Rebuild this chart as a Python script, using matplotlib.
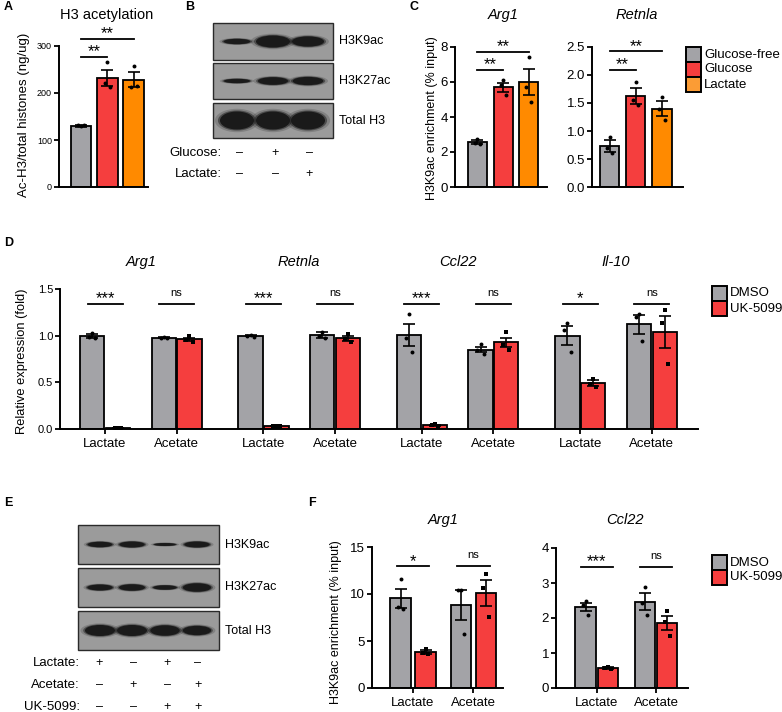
import matplotlib
matplotlib.use("Agg")
import matplotlib.pyplot as plt
from matplotlib.patches import Rectangle, Ellipse

plt.rcParams['font.family'] = ['Liberation Sans', 'DejaVu Sans']

W, H = 782, 712
GRAY = '#a3a3a7'
RED = '#f53e3e'
ORANGE = '#ff8a00'
ORANGE_LEG = '#fb9c35'

# ---- panel A : H3 acetylation ----
a_means = [130, 232, 228]
a_sem = [2, 17, 16]
a_points = [[129, 131, 132], [265, 222, 212], [258, 212, 215]]

# ---- panel B : blot ----
b_rows = ['H3K9ac', 'H3K27ac', 'Total H3']
b_bands = [[0.45, 1.0, 0.85], [0.4, 0.7, 0.75], [1.0, 1.0, 1.0]]
b_glucose = ['–', '+', '–']
b_lactate = ['–', '–', '+']

# ---- panel C : ChIP ----
c_groups = ['Glucose-free', 'Glucose', 'Lactate']
c_arg1_means = [2.55, 5.7, 6.0]
c_arg1_sem = [0.12, 0.26, 0.75]
c_arg1_points = [[2.75, 2.5, 2.45], [6.1, 5.8, 5.25], [7.4, 5.7, 4.85]]
c_retnla_means = [0.73, 1.63, 1.40]
c_retnla_sem = [0.11, 0.14, 0.13]
c_retnla_points = [[0.9, 0.7, 0.6], [1.87, 1.55, 1.47], [1.6, 1.4, 1.2]]

# ---- panel D : expression ----
d_genes = ['Arg1', 'Retnla', 'Ccl22', 'Il-10']
d_conds = ['Lactate', 'Acetate']
d_dmso_means = [[1.0, 0.98], [1.0, 1.01], [1.01, 0.85], [1.0, 1.12]]
d_dmso_sem = [[0.02, 0.005], [0.005, 0.03], [0.12, 0.03], [0.10, 0.10]]
d_dmso_points = [[[1.03, 0.99, 0.97], [0.99, 0.98, 0.98]],
                 [[1.01, 1.0, 0.99], [1.04, 1.0, 0.97]],
                 [[1.23, 0.98, 0.83], [0.91, 0.85, 0.80]],
                 [[1.14, 1.06, 0.82], [1.23, 1.20, 0.94]]]
d_uk_means = [[0.01, 0.96], [0.03, 0.97], [0.04, 0.93], [0.49, 1.04]]
d_uk_sem = [[0.003, 0.02], [0.003, 0.03], [0.007, 0.05], [0.03, 0.17]]
d_uk_points = [[[0.01, 0.01, 0.01], [1.0, 0.95, 0.93]],
               [[0.03, 0.03, 0.03], [1.02, 0.96, 0.93]],
               [[0.05, 0.04, 0.03], [1.04, 0.90, 0.85]],
               [[0.54, 0.48, 0.45], [1.28, 1.14, 0.70]]]
d_sig = [['***', 'ns'], ['***', 'ns'], ['***', 'ns'], ['*', 'ns']]

# ---- panel E : blot ----
e_rows = ['H3K9ac', 'H3K27ac', 'Total H3']
e_bands = [[0.55, 0.6, 0.3, 0.6], [0.6, 0.65, 0.45, 0.85], [1.0, 1.0, 0.95, 0.85]]
e_lactate = ['+', '–', '+', '–']
e_acetate = ['–', '+', '–', '+']
e_uk = ['–', '–', '+', '+']

# ---- panel F : ChIP ----
f_genes = ['Arg1', 'Ccl22']
f_dmso_means = [[9.55, 8.8], [2.31, 2.47]]
f_dmso_sem = [[1.0, 1.6], [0.12, 0.25]]
f_dmso_points = [[[11.6, 8.6, 8.45], [10.4, 10.4, 5.7]],
                 [[2.48, 2.37, 2.1], [2.9, 2.43, 2.1]]]
f_uk_means = [[3.8, 10.1], [0.57, 1.86]]
f_uk_sem = [[0.2, 1.35], [0.02, 0.21]]
f_uk_points = [[[4.2, 3.7, 3.6], [12.1, 10.6, 7.6]],
               [[0.6, 0.57, 0.55], [2.2, 1.88, 1.5]]]
f_sig = [['*', 'ns'], ['***', 'ns']]

fig = plt.figure(figsize=(W / 100, H / 100), dpi=100)

# overlay in pixel coords for blots, legends, titles, letters
ov = fig.add_axes([0, 0, 1, 1])
ov.set_xlim(0, W)
ov.set_ylim(H, 0)
ov.axis('off')


def px_axes(left, top, right, bottom):
    return fig.add_axes([left / W, 1 - bottom / H, (right - left) / W, (bottom - top) / H])


def style(ax, ysize, xsize=None):
    ax.patch.set_alpha(0)
    ax.spines['top'].set_visible(False)
    ax.spines['right'].set_visible(False)
    ax.spines['left'].set_linewidth(1.4)
    ax.spines['bottom'].set_linewidth(1.4)
    ax.tick_params(axis='y', length=3.5, width=1.3, labelsize=ysize, pad=1.5)
    if xsize:
        ax.tick_params(axis='x', length=3.5, width=1.3, labelsize=xsize, pad=3)
    else:
        ax.tick_params(axis='x', length=0, labelbottom=False)


OFFS = [0.0, -0.13, 0.13]


def bars(ax, xs, means, sems, points, colors, width, marker='o'):
    ax.bar(xs, means, width=width, color=colors, edgecolor='black', linewidth=1.3, zorder=2)
    ax.errorbar(xs, means, yerr=sems, fmt='none', ecolor='black', elinewidth=1.2,
                capsize=4, capthick=1.2, zorder=3)
    for x, pts in zip(xs, points):
        ax.scatter([x + o * width for o in OFFS], pts, s=8, color='black', marker=marker,
                   zorder=4, clip_on=False, linewidths=0)


def sig(ax, x0, x1, y, txt):
    ax.plot([x0, x1], [y, y], color='black', lw=1.3, clip_on=False)
    if txt == 'ns':
        ax.annotate(txt, xy=((x0 + x1) / 2, y), xytext=(0, 6), textcoords='offset points',
                    ha='center', va='baseline', fontsize=8, annotation_clip=False)
    else:
        ax.annotate(txt, xy=((x0 + x1) / 2, y), xytext=(0, 0.5), textcoords='offset points',
                    ha='center', va='baseline', fontsize=12, annotation_clip=False)


def label(x, y, txt, size, **kw):
    ov.text(x, y, txt, ha='center', va='center', fontsize=size, **kw)


three = [GRAY, RED, ORANGE]

# A
axA = px_axes(59, 46, 148, 187)
bars(axA, [0, 1, 2], a_means, a_sem, a_points, three, 0.79)
axA.set_xlim(-0.83, 2.53)
axA.set_ylim(0, 300)
axA.set_yticks([0, 100, 200, 300])
style(axA, 6.5)
sig(axA, 0, 1, 277, '**')
sig(axA, 0, 2, 315, '**')
label(24, 115, 'Ac-H3/total histones (ng/ug)', 9.5, rotation=90)
label(107, 15, 'H3 acetylation', 10.5)

# C
axC1 = px_axes(455, 47, 547, 187)
bars(axC1, [0, 1, 2], c_arg1_means, c_arg1_sem, c_arg1_points, three, 0.74)
axC1.set_xlim(-0.87, 2.70)
axC1.set_ylim(0, 8)
axC1.set_yticks([0, 2, 4, 6, 8])
style(axC1, 9.5)
sig(axC1, 0, 1, 6.69, '**')
sig(axC1, 0, 2, 7.73, '**')
label(432, 118, 'H3K9ac enrichment (% input)', 9, rotation=90)
label(503, 15, 'Arg1', 10.5, style='italic')

axC2 = px_axes(592, 47, 683, 187)
bars(axC2, [0, 1, 2], c_retnla_means, c_retnla_sem, c_retnla_points, three, 0.74)
axC2.set_xlim(-0.67, 2.8)
axC2.set_ylim(0, 2.5)
axC2.set_yticks([0, 0.5, 1.0, 1.5, 2.0, 2.5])
axC2.set_yticklabels(['0.0', '0.5', '1.0', '1.5', '2.0', '2.5'])
style(axC2, 9.5)
sig(axC2, 0, 1, 2.09, '**')
sig(axC2, 0, 2, 2.42, '**')
label(637, 15, 'Retnla', 10.5, style='italic')

# D
axD = px_axes(60, 289, 698, 429)
gene_step = 2.215
d_off = 0.18
d_w = 0.34
centers = []
for g in range(len(d_genes)):
    xs = [g * gene_step, g * gene_step + 1]
    centers += xs
    bars(axD, [x - d_off for x in xs], d_dmso_means[g], d_dmso_sem[g], d_dmso_points[g],
         [GRAY, GRAY], d_w)
    bars(axD, [x + d_off for x in xs], d_uk_means[g], d_uk_sem[g], d_uk_points[g],
         [RED, RED], d_w, marker='s')
    for x, t in zip(xs, d_sig[g]):
        sig(axD, x - 0.245, x + 0.245, 1.336, t)
axD.set_xlim(-0.63, 8.29)
axD.set_ylim(0, 1.5)
axD.set_yticks([0, 0.5, 1.0, 1.5])
axD.set_yticklabels(['0.0', '0.5', '1.0', '1.5'])
style(axD, 8, 9.5)
axD.set_xticks(centers)
axD.set_xticklabels(d_conds * len(d_genes))
label(22, 361, 'Relative expression (fold)', 9.3, rotation=90)
for g, name in enumerate(d_genes):
    px = 105 + (g * gene_step + 0.5) * 71.5
    label(px, 262, name, 10.5, style='italic')

# F
f_layout = [((372, 547, 503, 688), (-0.68, 1.49), 15, [0, 5, 10, 15], 12.94, 0.207, 443),
            ((556, 548, 688, 688), (-0.69, 1.54), 4, [0, 1, 2, 3, 4], 3.46, 0.19, 625)]
for g, (rect, xl, ymax, yt, sy, off, tx) in enumerate(f_layout):
    ax = px_axes(*rect)
    xs = [0, 1]
    bars(ax, [x - off for x in xs], f_dmso_means[g], f_dmso_sem[g], f_dmso_points[g],
         [GRAY, GRAY], 0.345)
    bars(ax, [x + off for x in xs], f_uk_means[g], f_uk_sem[g], f_uk_points[g],
         [RED, RED], 0.345, marker='s')
    for x, t in zip(xs, f_sig[g]):
        sig(ax, x - 0.27, x + 0.27, sy, t)
    ax.set_xlim(*xl)
    ax.set_ylim(0, ymax)
    ax.set_yticks(yt)
    style(ax, 9.5, 9.5)
    ax.set_xticks(xs)
    ax.set_xticklabels(d_conds)
    label(tx, 520, f_genes[g], 10.5, style='italic')
label(336, 622, 'H3K9ac enrichment (% input)', 9, rotation=90)


def blot(left, right, row_edges, lanes, bands, labels, band_w, band_h):
    for (top, bottom), strengths, lab, hmax in zip(row_edges, bands, labels, band_h):
        ov.add_patch(Rectangle((left, top), right - left, bottom - top, facecolor='#9b9b9b',
                               edgecolor='#2a2a2a', lw=1.0))
        cy = (top + bottom) / 2
        for x, s in zip(lanes, strengths):
            w = band_w * (0.62 + 0.38 * s)
            h = hmax * s
            for k, a in [(1.3, 0.2), (1.12, 0.5), (1.0, 1.0)]:
                ov.add_patch(Ellipse((x, cy), w * k, h * k, facecolor='#1a1a1a', alpha=a, lw=0))
        ov.text(right + 6, cy, lab, ha='left', va='center', fontsize=9)


blot(213, 333, [(23, 60), (63, 99), (103, 138)], [237, 273, 308], b_bands, b_rows, 34,
     [12, 11, 18])
for lab, row, y in [('Glucose:', b_glucose, 153), ('Lactate:', b_lactate, 174)]:
    ov.text(222, y, lab, ha='right', va='center', fontsize=9.5)
    for x, t in zip([239, 275, 309], row):
        ov.text(x, y, t, ha='center', va='center', fontsize=9)

blot(78, 219, [(525, 564), (568, 607), (611, 650)], [100, 132, 165, 197], e_bands, e_rows, 30,
     [10, 10, 11])
for lab, row, y in [('Lactate:', e_lactate, 663), ('Acetate:', e_acetate, 685),
                    ('UK-5099:', e_uk, 707)]:
    ov.text(80, y, lab, ha='right', va='center', fontsize=9.5)
    for x, t in zip([99, 133, 167, 198], row):
        ov.text(x, y, t, ha='center', va='center', fontsize=9)


def legend(x, y0, names, colors, step=15):
    for i, (n, c) in enumerate(zip(names, colors)):
        ov.add_patch(Rectangle((x, y0 + i * step), 15, step, facecolor=c, edgecolor='black',
                               lw=1.4))
        ov.text(x + 18, y0 + i * step + step / 2, n, ha='left', va='center', fontsize=9.5)


legend(686, 47, c_groups, [GRAY, RED, ORANGE_LEG])
legend(712, 286, ['DMSO', 'UK-5099'], [GRAY, RED])
legend(712, 555, ['DMSO', 'UK-5099'], [GRAY, RED])

for letter, x, y in [('A', 4, 7), ('B', 185, 7), ('C', 410, 7), ('D', 4, 243),
                     ('E', 4, 503), ('F', 308, 503)]:
    ov.text(x, y, letter, ha='left', va='center', fontsize=9, fontweight='bold')

fig.savefig('out.png', dpi=100)
